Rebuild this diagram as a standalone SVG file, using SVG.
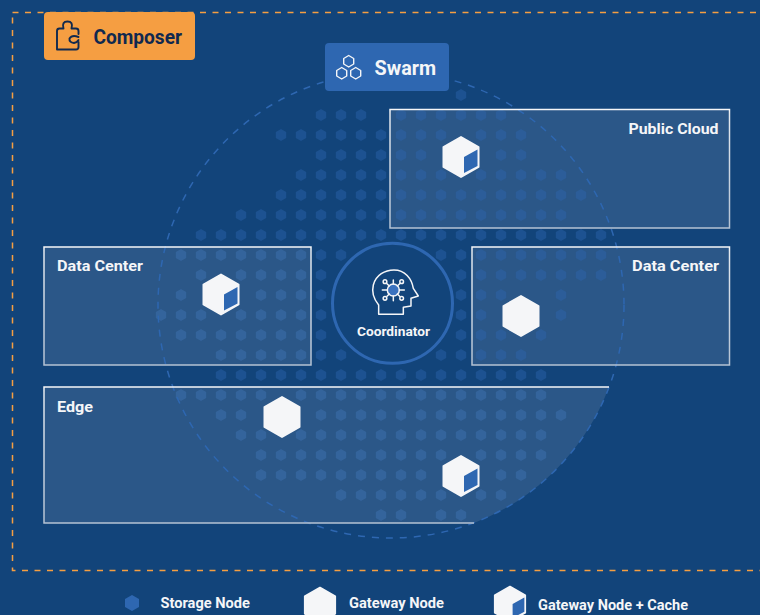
<svg xmlns="http://www.w3.org/2000/svg" width="760" height="615" viewBox="0 0 760 615">
<style>
text{font-family:Roboto,"Liberation Sans",sans-serif;font-weight:700;fill:#f5f6f8}
.pl{fill:#fff;fill-opacity:.105}
.st{fill:none;stroke:url(#edge);stroke-width:1.5}
.t{font-size:15px}
.hex{fill:#f5f6f8;stroke:#f5f6f8;stroke-width:2;stroke-linejoin:round}
.face{fill:#2e67b1}
#dots use{fill:#2e67b1;fill-opacity:.42}
</style>
<defs>
<linearGradient id="edge" x1="0" y1="0" x2="0" y2="1"><stop offset="0" stop-color="#f5f6f8"/><stop offset=".04" stop-color="#e4e9ef"/><stop offset="1" stop-color="#b4c2d3"/></linearGradient>
<polygon id="d" points="0,-6 5.2,-3 5.2,3 0,6 -5.2,3 -5.2,-3"/>
<polygon id="gw" class="hex" points="0,-20 17.5,-10 17.5,10 0,20 -17.5,10 -17.5,-10"/>
<g id="cube"><use href="#gw"/><polygon class="face" points="3,0 16.500,-7.500 16.500,9 3,16"/></g>
</defs>
<rect width="760" height="615" fill="#12447a"/>
<rect x="12.500" y="12.500" width="760" height="558" fill="none" stroke="#f59e42" stroke-width="1.500" stroke-dasharray="6 6.500"/>
<rect class="pl" x="390" y="109" width="340" height="119"/>
<rect class="pl" x="472" y="247" width="258" height="118"/>
<g id="dots">
<g transform="translate(0 95)"><use href="#d" x="461"/></g>
<g transform="translate(0 115)"><use href="#d" x="321"/><use href="#d" x="341"/><use href="#d" x="361"/><use href="#d" x="401"/><use href="#d" x="421"/><use href="#d" x="441"/><use href="#d" x="461"/><use href="#d" x="481"/><use href="#d" x="501"/></g>
<g transform="translate(0 135)"><use href="#d" x="281"/><use href="#d" x="301"/><use href="#d" x="321"/><use href="#d" x="341"/><use href="#d" x="361"/><use href="#d" x="381"/><use href="#d" x="401"/><use href="#d" x="421"/><use href="#d" x="441"/><use href="#d" x="481"/><use href="#d" x="501"/><use href="#d" x="521"/></g>
<g transform="translate(0 155)"><use href="#d" x="321"/><use href="#d" x="341"/><use href="#d" x="361"/><use href="#d" x="381"/><use href="#d" x="401"/><use href="#d" x="421"/><use href="#d" x="501"/><use href="#d" x="521"/></g>
<g transform="translate(0 175)"><use href="#d" x="301"/><use href="#d" x="321"/><use href="#d" x="341"/><use href="#d" x="361"/><use href="#d" x="381"/><use href="#d" x="401"/><use href="#d" x="421"/><use href="#d" x="441"/><use href="#d" x="481"/><use href="#d" x="501"/><use href="#d" x="521"/><use href="#d" x="541"/><use href="#d" x="561"/></g>
<g transform="translate(0 195)"><use href="#d" x="281"/><use href="#d" x="301"/><use href="#d" x="321"/><use href="#d" x="341"/><use href="#d" x="361"/><use href="#d" x="381"/><use href="#d" x="401"/><use href="#d" x="421"/><use href="#d" x="441"/><use href="#d" x="461"/><use href="#d" x="481"/><use href="#d" x="501"/><use href="#d" x="521"/><use href="#d" x="541"/><use href="#d" x="561"/><use href="#d" x="581"/></g>
<g transform="translate(0 215)"><use href="#d" x="241"/><use href="#d" x="261"/><use href="#d" x="281"/><use href="#d" x="301"/><use href="#d" x="321"/><use href="#d" x="341"/><use href="#d" x="361"/><use href="#d" x="381"/><use href="#d" x="401"/><use href="#d" x="421"/><use href="#d" x="441"/><use href="#d" x="461"/><use href="#d" x="481"/><use href="#d" x="501"/><use href="#d" x="521"/><use href="#d" x="541"/><use href="#d" x="561"/></g>
<g transform="translate(0 235)"><use href="#d" x="201"/><use href="#d" x="221"/><use href="#d" x="241"/><use href="#d" x="261"/><use href="#d" x="281"/><use href="#d" x="301"/><use href="#d" x="321"/><use href="#d" x="341"/><use href="#d" x="361"/><use href="#d" x="381"/><use href="#d" x="401"/><use href="#d" x="421"/><use href="#d" x="441"/><use href="#d" x="461"/><use href="#d" x="481"/><use href="#d" x="501"/><use href="#d" x="521"/><use href="#d" x="541"/><use href="#d" x="561"/><use href="#d" x="581"/><use href="#d" x="601"/></g>
<g transform="translate(0 255)"><use href="#d" x="181"/><use href="#d" x="201"/><use href="#d" x="221"/><use href="#d" x="241"/><use href="#d" x="261"/><use href="#d" x="281"/><use href="#d" x="301"/><use href="#d" x="321"/><use href="#d" x="341"/><use href="#d" x="441"/><use href="#d" x="461"/><use href="#d" x="481"/><use href="#d" x="501"/><use href="#d" x="521"/><use href="#d" x="541"/><use href="#d" x="561"/><use href="#d" x="581"/><use href="#d" x="601"/></g>
<g transform="translate(0 275)"><use href="#d" x="201"/><use href="#d" x="241"/><use href="#d" x="261"/><use href="#d" x="281"/><use href="#d" x="301"/><use href="#d" x="321"/><use href="#d" x="461"/><use href="#d" x="481"/><use href="#d" x="501"/><use href="#d" x="521"/><use href="#d" x="541"/><use href="#d" x="561"/><use href="#d" x="581"/><use href="#d" x="601"/></g>
<g transform="translate(0 295)"><use href="#d" x="181"/><use href="#d" x="261"/><use href="#d" x="281"/><use href="#d" x="301"/><use href="#d" x="321"/><use href="#d" x="461"/><use href="#d" x="481"/><use href="#d" x="501"/><use href="#d" x="561"/></g>
<g transform="translate(0 315)"><use href="#d" x="161"/><use href="#d" x="181"/><use href="#d" x="201"/><use href="#d" x="241"/><use href="#d" x="261"/><use href="#d" x="281"/><use href="#d" x="301"/><use href="#d" x="321"/><use href="#d" x="461"/><use href="#d" x="481"/><use href="#d" x="561"/></g>
<g transform="translate(0 335)"><use href="#d" x="181"/><use href="#d" x="201"/><use href="#d" x="221"/><use href="#d" x="241"/><use href="#d" x="261"/><use href="#d" x="281"/><use href="#d" x="301"/><use href="#d" x="321"/><use href="#d" x="461"/><use href="#d" x="481"/><use href="#d" x="501"/><use href="#d" x="541"/></g>
<g transform="translate(0 355)"><use href="#d" x="221"/><use href="#d" x="241"/><use href="#d" x="261"/><use href="#d" x="281"/><use href="#d" x="301"/><use href="#d" x="321"/><use href="#d" x="341"/><use href="#d" x="441"/><use href="#d" x="461"/><use href="#d" x="481"/><use href="#d" x="501"/><use href="#d" x="521"/></g>
<g transform="translate(0 375)"><use href="#d" x="221"/><use href="#d" x="241"/><use href="#d" x="261"/><use href="#d" x="281"/><use href="#d" x="301"/><use href="#d" x="321"/><use href="#d" x="341"/><use href="#d" x="361"/><use href="#d" x="381"/><use href="#d" x="401"/><use href="#d" x="421"/><use href="#d" x="441"/><use href="#d" x="461"/><use href="#d" x="481"/><use href="#d" x="501"/><use href="#d" x="521"/><use href="#d" x="541"/></g>
<g transform="translate(0 395)"><use href="#d" x="181"/><use href="#d" x="201"/><use href="#d" x="221"/><use href="#d" x="241"/><use href="#d" x="261"/><use href="#d" x="301"/><use href="#d" x="321"/><use href="#d" x="341"/><use href="#d" x="361"/><use href="#d" x="381"/><use href="#d" x="401"/><use href="#d" x="421"/><use href="#d" x="441"/><use href="#d" x="461"/><use href="#d" x="481"/><use href="#d" x="501"/><use href="#d" x="521"/><use href="#d" x="541"/></g>
<g transform="translate(0 415)"><use href="#d" x="221"/><use href="#d" x="241"/><use href="#d" x="321"/><use href="#d" x="341"/><use href="#d" x="361"/><use href="#d" x="381"/><use href="#d" x="401"/><use href="#d" x="421"/><use href="#d" x="441"/><use href="#d" x="461"/><use href="#d" x="481"/><use href="#d" x="501"/><use href="#d" x="521"/><use href="#d" x="541"/><use href="#d" x="561"/></g>
<g transform="translate(0 435)"><use href="#d" x="241"/><use href="#d" x="261"/><use href="#d" x="301"/><use href="#d" x="321"/><use href="#d" x="341"/><use href="#d" x="361"/><use href="#d" x="381"/><use href="#d" x="401"/><use href="#d" x="421"/><use href="#d" x="441"/><use href="#d" x="461"/><use href="#d" x="481"/><use href="#d" x="501"/><use href="#d" x="521"/><use href="#d" x="541"/></g>
<g transform="translate(0 455)"><use href="#d" x="261"/><use href="#d" x="281"/><use href="#d" x="301"/><use href="#d" x="321"/><use href="#d" x="341"/><use href="#d" x="361"/><use href="#d" x="381"/><use href="#d" x="401"/><use href="#d" x="421"/><use href="#d" x="441"/><use href="#d" x="481"/><use href="#d" x="501"/><use href="#d" x="521"/><use href="#d" x="541"/></g>
<g transform="translate(0 475)"><use href="#d" x="261"/><use href="#d" x="281"/><use href="#d" x="301"/><use href="#d" x="321"/><use href="#d" x="341"/><use href="#d" x="361"/><use href="#d" x="381"/><use href="#d" x="401"/><use href="#d" x="421"/><use href="#d" x="501"/><use href="#d" x="521"/></g>
<g transform="translate(0 495)"><use href="#d" x="341"/><use href="#d" x="361"/><use href="#d" x="381"/><use href="#d" x="401"/><use href="#d" x="421"/><use href="#d" x="441"/><use href="#d" x="481"/><use href="#d" x="501"/></g>
<g transform="translate(0 515)"><use href="#d" x="381"/><use href="#d" x="401"/><use href="#d" x="441"/><use href="#d" x="461"/></g>
</g>
<rect class="pl" x="44" y="247" width="267" height="118"/>
<path class="pl" d="M44 387H609A233 233 0 0 1 474 523H44Z"/>
<circle id="swarm-boundary" cx="391" cy="305" r="233" fill="none" stroke="#2e67b1" stroke-width="1.500" stroke-dasharray="7 7"/>
<g id="panel-public-cloud"><rect class="st" x="390" y="109.500" width="339.500" height="118.500"/><text class="t" x="628.500" y="134" textLength="90" lengthAdjust="spacingAndGlyphs">Public Cloud</text></g>
<g id="panel-data-center-right"><rect class="st" x="472" y="247" width="257.500" height="118"/><text class="t" x="632" y="271" textLength="87" lengthAdjust="spacingAndGlyphs">Data Center</text></g>
<g id="panel-data-center-left"><rect class="st" x="44" y="247" width="267" height="118"/><text class="t" x="57" y="271" textLength="86" lengthAdjust="spacingAndGlyphs">Data Center</text></g>
<g id="panel-edge"><path class="st" d="M609 387H44V523H474"/><text class="t" x="57" y="412" textLength="36" lengthAdjust="spacingAndGlyphs">Edge</text></g>
<g id="composer">
<rect x="44" y="12" width="151" height="48" rx="4" fill="#f59e42"/>
<path d="M57 49.500V31Q57 28.500 59.500 28.500H63.500Q61.500 21.500 67.500 21.500Q73.500 21.500 71.500 28.500H76Q78.500 28.500 78.500 31V34M78.500 42V47Q78.500 49.500 76 49.500H57M78.500 37Q72 34.500 69.500 38.500Q69 42.500 74 43Q77 42.500 78.500 40" fill="none" stroke="#10294f" stroke-width="1.900" stroke-linejoin="round" stroke-linecap="round"/>
<text x="93.500" y="44" font-size="21" style="fill:#10294f" textLength="88.500" lengthAdjust="spacingAndGlyphs">Composer</text>
</g>
<g id="swarm">
<rect x="325" y="43" width="124" height="48" rx="4" fill="#2e67b1"/>
<g fill="none" stroke="#f5f6f8" stroke-width="1.400" stroke-linejoin="round">
<polygon points="348.700,55.500 353.700,58.500 353.700,64 348.700,67 343.700,64 343.700,58.500"/>
<polygon points="341.700,67.500 346.700,70.500 346.700,76 341.700,79 336.700,76 336.700,70.500"/>
<polygon points="355.700,67.500 360.700,70.500 360.700,76 355.700,79 350.700,76 350.700,70.500"/>
</g>
<text x="374.500" y="75" font-size="21" textLength="61.500" lengthAdjust="spacingAndGlyphs">Swarm</text>
</g>
<g id="coordinator">
<circle cx="392.500" cy="303.300" r="60" fill="#12447a" stroke="#2e67b1" stroke-width="3"/>
<g transform="translate(320 230) scale(.3333)" fill="none" stroke="#f5f6f8" stroke-width="4.500" stroke-linejoin="round" stroke-linecap="round">
<path d="M176 253V225C162 208 155 185 160 165C168 135 195 120 222 120C255 120 275 145 280 175L295 198L273 205V228L250 232V253Z"/>
<circle cx="220" cy="180" r="18" fill="#3a72bf"/>
<path d="M187 180H202M238 180H253M220 150V162M220 198V212M201 161L208 168M239 161L232 168M201 199L208 192M239 199L232 192"/>
<circle cx="195" cy="155" r="5.500"/><circle cx="245" cy="155" r="5.500"/><circle cx="195" cy="205" r="5.500"/><circle cx="245" cy="205" r="5.500"/>
</g>
<text x="357" y="336" font-size="13.500" textLength="73" lengthAdjust="spacingAndGlyphs">Coordinator</text>
</g>
<use id="node-cube-cloud" href="#cube" x="461" y="157"/>
<use id="node-cube-dc" href="#cube" x="221" y="294.500"/>
<use id="node-gateway-dc" href="#gw" x="521" y="316"/>
<use id="node-gateway-edge" href="#gw" x="282" y="417"/>
<use id="node-cube-edge" href="#cube" x="461" y="476"/>
<g id="legend">
<g id="legend-storage"><polygon points="132,595 139,599 139,607 132,611 125,607 125,599" fill="#2e67b1"/><text class="t" x="160.500" y="608" textLength="89.500" lengthAdjust="spacingAndGlyphs">Storage Node</text></g>
<g id="legend-gateway"><use href="#gw" transform="translate(320 605) scale(.87)"/><text class="t" x="349" y="608" textLength="95" lengthAdjust="spacingAndGlyphs">Gateway Node</text></g>
<g id="legend-cache"><use href="#cube" transform="translate(510 604) scale(.87)"/><text class="t" x="538" y="610" textLength="150" lengthAdjust="spacingAndGlyphs">Gateway Node + Cache</text></g>
</g>
</svg>
